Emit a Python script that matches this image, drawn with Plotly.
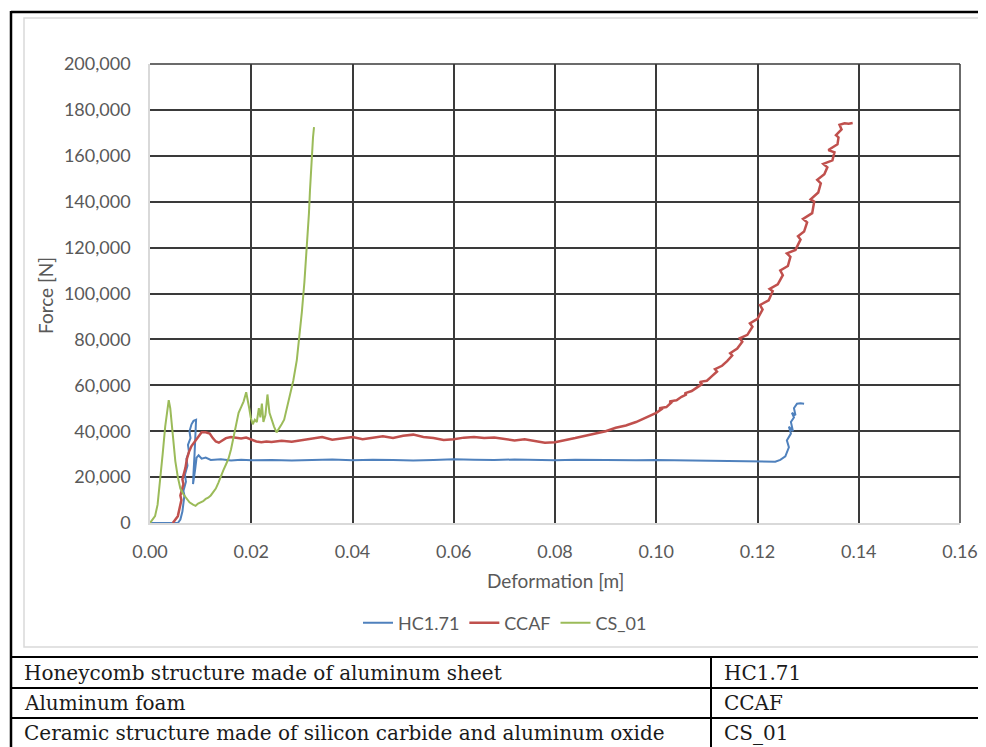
import plotly.graph_objects as go

# ---------------- data ----------------
hc_x = [0, 0.0030, 0.0055, 0.0060, 0.0064, 0.0068, 0.0066, 0.0071, 0.0069, 0.0074, 0.0072, 0.0077,
        0.0075, 0.0080, 0.0078, 0.0082, 0.0086, 0.0091, 0.0090, 0.0088, 0.0086, 0.0085, 0.0089, 0.0092,
        0.0096, 0.0102, 0.011, 0.012, 0.014, 0.016, 0.018, 0.020, 0.024, 0.028, 0.032, 0.036, 0.040,
        0.044, 0.048, 0.052, 0.056, 0.060, 0.064, 0.068, 0.072, 0.076, 0.080, 0.084, 0.088, 0.092,
        0.096, 0.100, 0.104, 0.108, 0.112, 0.116, 0.120, 0.122, 0.1235, 0.1245, 0.1255, 0.1262,
        0.1258, 0.1266, 0.1262, 0.1270, 0.1266, 0.1272, 0.1268, 0.1275, 0.1272, 0.1278, 0.1285, 0.1292]
hc_y = [0, 0, 0, 1500, 5000, 12000, 14000, 18000, 21000, 25000, 28000, 31000,
        34000, 37000, 40000, 43000, 44500, 45000, 38000, 30000, 22000, 17000, 23000, 28500,
        29500, 28000, 28500, 27500, 27800, 27200, 27600, 27300, 27500, 27200, 27400, 27700, 27300,
        27600, 27400, 27200, 27500, 27800, 27600, 27400, 27700, 27500, 27300, 27600, 27400, 27200,
        27300, 27500, 27400, 27200, 27300, 27000, 26900, 26800, 26700, 27500, 29000, 33000,
        36000, 39000, 42000, 40000, 44000, 46000, 48000, 47000, 50000, 52000, 52200, 52000]

ccaf_x = [0.0045, 0.0050, 0.0055, 0.0058, 0.0062, 0.0060, 0.0066, 0.0064, 0.0070, 0.0073, 0.0077,
          0.0082, 0.0087, 0.0092, 0.0097, 0.0102, 0.0110, 0.0118, 0.0124, 0.0130, 0.0136, 0.0142,
          0.0150, 0.0160, 0.0170, 0.0180, 0.0190, 0.0200, 0.0210, 0.0220, 0.0230, 0.0240, 0.0260,
          0.0280, 0.0300, 0.0320, 0.0340, 0.0360, 0.0380, 0.0400, 0.0420, 0.0440, 0.0460, 0.0480,
          0.0500, 0.0520, 0.0540, 0.0560, 0.0580, 0.0600, 0.0620, 0.0640, 0.0660, 0.0680, 0.0700,
          0.0720, 0.0740, 0.0760, 0.0780, 0.0800, 0.0820, 0.0840, 0.0860, 0.0880, 0.0900, 0.0920,
          0.0940, 0.0960, 0.0980, 0.1000, 0.1010, 0.1006, 0.1020, 0.1030, 0.1026, 0.1040, 0.1050,
          0.1060, 0.1056, 0.1070, 0.1080, 0.1090, 0.1086, 0.1100, 0.1110, 0.1120, 0.1116, 0.1130,
          0.1140, 0.1150, 0.1146, 0.1160, 0.1170, 0.1165, 0.1180, 0.1190, 0.1185, 0.1200, 0.1210,
          0.1205, 0.1222, 0.1230, 0.1224, 0.1240, 0.1250, 0.1245, 0.1260, 0.1265, 0.1258, 0.1275,
          0.1285, 0.1280, 0.1292, 0.1298, 0.1290, 0.1308, 0.1312, 0.1305, 0.1320, 0.1325, 0.1318,
          0.1332, 0.1338, 0.1330, 0.1348, 0.1352, 0.1340, 0.1358, 0.1360, 0.1355, 0.1366, 0.1362,
          0.1372, 0.1380, 0.1388]
ccaf_y = [0, 1500, 3000, 6000, 10000, 12000, 17000, 19000, 24000, 28000, 31000,
          33500, 35000, 37000, 38500, 39500, 39500, 39000, 37000, 35500, 35000, 36000,
          37000, 37500, 37000, 36800, 37200, 36500, 35500, 35200, 35500, 35300, 35800,
          35400, 36000, 36800, 37500, 36300, 36800, 37500, 36500, 37200, 37800, 37000,
          38000, 38500, 37500, 37000, 36200, 36500, 37200, 37500, 37000, 37300, 36800,
          36000, 36500, 35800, 35000, 35200, 36000, 37000, 38000, 39000, 40000, 41500,
          42500, 44000, 46000, 48000, 49500, 50000, 50500, 52500, 53000, 53500, 55000,
          56000, 56500, 57500, 59000, 60500, 61500, 62000, 64000, 66000, 67000, 68500,
          70500, 73000, 74000, 76000, 79000, 80500, 82000, 85500, 87000, 89000, 93000,
          95000, 97000, 101000, 102000, 104000, 108000, 110000, 112000, 116000, 117500, 119000,
          123500, 125000, 127000, 131000, 132500, 135000, 140000, 141000, 144000, 148000, 149500,
          152000, 155000, 156500, 158000, 161500, 162500, 165000, 168000, 169000, 171500, 173500,
          174200, 174000, 174300]

cs_x = [0, 0.0005, 0.0010, 0.0015, 0.0020, 0.0025, 0.0030, 0.0034, 0.0037, 0.0040, 0.0045,
        0.0050, 0.0055, 0.0060, 0.0066, 0.0072, 0.0078, 0.0085, 0.0090, 0.0095, 0.0100, 0.0105,
        0.0110, 0.0115, 0.0120, 0.0125, 0.0130, 0.0135, 0.0140, 0.0145, 0.0150, 0.0155, 0.0160,
        0.0165, 0.0170, 0.0175, 0.0180, 0.0185, 0.0190, 0.0193, 0.0196, 0.0199, 0.0203, 0.0207,
        0.0211, 0.0215, 0.0218, 0.0221, 0.0224, 0.0228, 0.0232, 0.0236, 0.0240, 0.0245, 0.0250,
        0.0255, 0.0260, 0.0265, 0.0272, 0.0283, 0.0290, 0.0296, 0.0300, 0.0305, 0.0310, 0.0314,
        0.0316, 0.0318, 0.0320, 0.0322, 0.0324]
cs_y = [0, 1500, 3000, 8000, 18000, 30000, 42000, 50000, 53500, 50000, 38000,
        27000, 20000, 15000, 12500, 10500, 9000, 8000, 7500, 8500, 9000, 9500,
        10500, 11000, 12000, 13500, 15000, 17500, 20500, 23000, 25500, 28000, 32000,
        37000, 43000, 48000, 50500, 53000, 57000, 54000, 50000, 46000, 43000, 45000,
        44000, 50000, 46000, 52000, 44000, 47000, 56000, 48000, 45000, 42000, 39500,
        41000, 43000, 45000, 52000, 62000, 71000, 82000, 92000, 105000, 120000, 135000,
        145000, 155000, 162000, 168000, 172500]

series_names = ["HC1.71", "CCAF", "CS_01"]
series_colors = ["#4F81BD", "#C0504D", "#9BBB59"]

table_desc = ["Honeycomb structure made of aluminum sheet",
              "Aluminum foam",
              "Ceramic structure made of silicon carbide and aluminum oxide"]
table_code = ["HC1.71", "CCAF", "CS_01"]

x_ticks = [0, 0.02, 0.04, 0.06, 0.08, 0.10, 0.12, 0.14, 0.16]
y_ticks = [0, 20000, 40000, 60000, 80000, 100000, 120000, 140000, 160000, 180000, 200000]

# ---------------- figure ----------------
OFF = 8  # page body margin
W, H = 986 - OFF, 747 - OFF
L, R, T, B = 150 - OFF, 960 - OFF, 64 - OFF, 523 - OFF


def px(xp):
    return (xp - OFF - L) / (R - L)


def py(yp):
    return (B - (yp - OFF)) / (B - T)


fig = go.Figure()
for xs, ys, name, col, w in zip([hc_x, ccaf_x, cs_x], [hc_y, ccaf_y, cs_y], series_names, series_colors,
                                [2, 2.5, 2]):
    fig.add_trace(go.Scatter(x=xs, y=ys, mode="lines", name=name,
                             line=dict(color=col, width=w)))

font_main = "Lato, 'Open Sans', sans-serif"
grid_col = "#3a3a3a"

fig.update_layout(
    width=W, height=H,
    margin=dict(l=L, r=W - R, t=T, b=H - B, pad=0, autoexpand=False),
    paper_bgcolor="white", plot_bgcolor="white",
    font=dict(family=font_main, color="#595959", size=19),
    showlegend=True,
    legend=dict(orientation="h", x=px(505), xanchor="center", y=py(623), yanchor="middle",
                font=dict(size=18, color="#595959", family=font_main),
                itemwidth=30, bgcolor="rgba(0,0,0,0)"),
    xaxis=dict(range=[0, 0.16], tickvals=x_ticks, ticktext=[f"{v:.2f}" for v in x_ticks],
               showgrid=True, gridcolor=grid_col, gridwidth=1.5,
               zeroline=False, showline=True, linecolor="#D9D9D9", linewidth=1.5,
               ticks="", ticklabelstandoff=12, tickfont=dict(size=18), automargin=False),
    yaxis=dict(range=[0, 200000], tickvals=y_ticks, ticktext=[f"{v:,}" for v in y_ticks],
               showgrid=True, gridcolor=grid_col, gridwidth=1.5,
               zeroline=False, showline=True, linecolor="#D9D9D9", linewidth=1.5,
               ticks="", ticklabelstandoff=14, tickfont=dict(size=18), automargin=False),
)

anns = [
    dict(text="Deformation [m]", x=px(555), y=py(580), xref="paper", yref="paper",
         showarrow=False, font=dict(size=19, color="#595959", family=font_main),
         xanchor="center", yanchor="middle"),
    dict(text="Force [N]", x=px(45), y=py(296), xref="paper", yref="paper", textangle=-90,
         showarrow=False, font=dict(size=19, color="#595959", family=font_main),
         xanchor="center", yanchor="middle"),
]

serif = "'DejaVu Serif', 'Liberation Serif', serif"
row_tops = [657, 688, 718]
row_centers = [672.5, 703, 733]
for desc, code, yc in zip(table_desc, table_code, row_centers):
    anns.append(dict(text=desc, x=px(22), y=py(yc), xref="paper", yref="paper", showarrow=False,
                     xanchor="left", yanchor="middle",
                     font=dict(size=20, color="#1a1a1a", family=serif)))
    anns.append(dict(text=code, x=px(722), y=py(yc), xref="paper", yref="paper", showarrow=False,
                     xanchor="left", yanchor="middle",
                     font=dict(size=20, color="#1a1a1a", family=serif)))
fig.update_layout(annotations=anns)

shapes = []
# dark frame lines at top (200,000) and right (0.16) of plot area
shapes.append(dict(type="line", xref="paper", yref="paper", x0=0, x1=1, y0=1, y1=1,
                   line=dict(color=grid_col, width=1.5), layer="below"))
shapes.append(dict(type="line", xref="paper", yref="paper", x0=1, x1=1, y0=0, y1=1,
                   line=dict(color=grid_col, width=1.5), layer="below"))
# inner chart-area border (light grey)
shapes.append(dict(type="rect", xref="paper", yref="paper", x0=px(24), x1=px(1000), y0=py(18), y1=py(647),
                   line=dict(color="#D9D9D9", width=1.5), fillcolor="rgba(0,0,0,0)", layer="below"))
# outer black frame
shapes.append(dict(type="line", xref="paper", yref="paper", x0=px(11), x1=px(1000), y0=py(12), y1=py(12),
                   line=dict(color="black", width=2.5)))
shapes.append(dict(type="line", xref="paper", yref="paper", x0=px(11), x1=px(11), y0=py(11), y1=py(760),
                   line=dict(color="black", width=2.5)))
for yt in row_tops:
    shapes.append(dict(type="line", xref="paper", yref="paper", x0=px(11), x1=px(1000), y0=py(yt), y1=py(yt),
                       line=dict(color="black", width=2)))
shapes.append(dict(type="line", xref="paper", yref="paper", x0=px(711), x1=px(711), y0=py(657), y1=py(760),
                   line=dict(color="black", width=2)))
fig.update_layout(shapes=shapes)

fig.write_html("out.html")
